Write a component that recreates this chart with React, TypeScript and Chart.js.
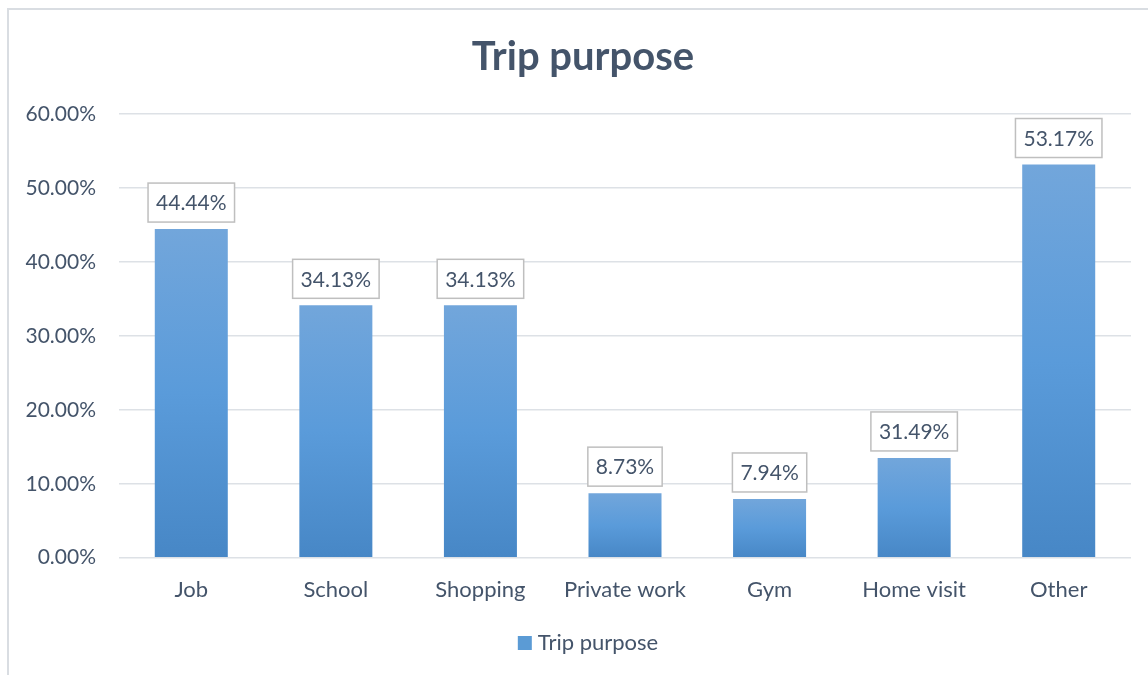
import React, { useEffect, useRef } from "react";
import { Chart, registerables } from "chart.js";

Chart.register(...registerables);

const categories = ["Job", "School", "Shopping", "Private work", "Gym", "Home visit", "Other"];
const values = [44.44, 34.13, 34.13, 8.73, 7.94, 13.49, 53.17];
const labelTexts = ["44.44%", "34.13%", "34.13%", "8.73%", "7.94%", "31.49%", "53.17%"];
const yTicks = [0, 10, 20, 30, 40, 50, 60];
const seriesName = "Trip purpose";
const titleText = "Trip purpose";

const FONT = "Lato";
const TEXT = "#44546A";
const W = 1148;
const H = 675;

const framePlugin = {
  id: "frame",
  beforeDraw(chart: any) {
    const c = chart.ctx;
    c.save();
    c.fillStyle = "#ffffff";
    c.fillRect(0, 0, chart.width, chart.height);
    c.strokeStyle = "#D9DDE2";
    c.lineWidth = 2;
    c.strokeRect(8, 9, chart.width + 40, chart.height + 20);
    c.restore();
  },
};

const titleLegendPlugin = {
  id: "titleLegend",
  afterDraw(chart: any) {
    const c = chart.ctx;
    c.save();
    // title
    c.font = `bold 40px ${FONT}`;
    c.fillStyle = TEXT;
    c.textAlign = "center";
    c.textBaseline = "alphabetic";
    c.fillText(titleText, 583, 70);
    // legend
    c.font = `22px ${FONT}`;
    const tw = c.measureText(seriesName).width;
    const box = 14;
    const gap = 6;
    const total = box + gap + tw;
    const x0 = 588 - total / 2;
    c.fillStyle = "#5B9BD5";
    c.fillRect(x0, 636, box, box);
    c.fillStyle = TEXT;
    c.textAlign = "left";
    c.fillText(seriesName, x0 + box + gap, 650);
    c.restore();
  },
};

const labelPlugin = {
  id: "boxLabels",
  afterDatasetsDraw(chart: any) {
    const c = chart.ctx;
    const meta = chart.getDatasetMeta(0);
    c.save();
    c.font = `21px ${FONT}`;
    c.textAlign = "center";
    c.textBaseline = "middle";
    meta.data.forEach((bar: any, i: number) => {
      const txt = labelTexts[i];
      const tw = c.measureText(txt).width;
      const bw = tw + 16;
      const bh = 39;
      const bx = bar.x - bw / 2;
      const by = bar.y - 7 - bh;
      c.fillStyle = "#ffffff";
      c.fillRect(bx, by, bw, bh);
      c.strokeStyle = "#BFBFBF";
      c.lineWidth = 1.5;
      c.strokeRect(bx, by, bw, bh);
      c.fillStyle = TEXT;
      c.fillText(txt, bar.x, by + bh / 2 + 1);
    });
    c.restore();
  },
};

function barGradient(ctx: any) {
  const chart = ctx.chart;
  if (ctx.type !== "data" || !chart.chartArea) return "#5B9BD5";
  const ys = chart.scales.y;
  const top = ys.getPixelForValue(ctx.raw);
  const bottom = ys.getPixelForValue(0);
  if (!isFinite(top) || !isFinite(bottom) || top === bottom) return "#5B9BD5";
  const g = chart.ctx.createLinearGradient(0, top, 0, bottom);
  g.addColorStop(0, "#72A6DB");
  g.addColorStop(0.5, "#5A9BDA");
  g.addColorStop(1, "#4787C6");
  return g;
}

export default function App() {
  const ref = useRef<HTMLCanvasElement | null>(null);
  useEffect(() => {
    if (!ref.current) return;
    const chart = new Chart(ref.current, {
      type: "bar",
      data: {
        labels: categories,
        datasets: [
          {
            label: seriesName,
            data: values,
            backgroundColor: barGradient as any,
            borderWidth: 0,
            categoryPercentage: 1,
            barPercentage: 0.505,
          },
        ],
      },
      options: {
        responsive: false,
        animation: false,
        devicePixelRatio: 1,
        layout: { padding: { top: 114, left: 0, right: W - 1131, bottom: 675 - 557.7 - 62 } },
        plugins: {
          title: { display: false },
          legend: { display: false },
          tooltip: { enabled: false },
        },
        scales: {
          x: {
            grid: { display: false, drawTicks: false },
            border: { display: false },
            ticks: { color: TEXT, font: { family: FONT, size: 22 }, padding: 19 },
            afterFit: (s: any) => {
              s.height = 62;
            },
          },
          y: {
            min: 0,
            max: 60,
            afterBuildTicks: (s: any) => {
              s.ticks = yTicks.map((v) => ({ value: v }));
            },
            grid: { color: "#DDE1E6", lineWidth: 1.5, drawTicks: false },
            border: { display: false },
            ticks: {
              color: TEXT,
              font: { family: FONT, size: 21 },
              padding: 23,
              callback: (v: any) => Number(v).toFixed(2) + "%",
            },
            afterFit: (s: any) => {
              s.width = 119;
            },
          },
        },
      },
      plugins: [framePlugin, labelPlugin, titleLegendPlugin],
    });
    return () => chart.destroy();
  }, []);
  return (
    <div style={{ position: "fixed", left: 0, top: 0, width: 1148, height: 675, overflow: "hidden", background: "#fff" }}>
      <canvas ref={ref} width={W} height={H} style={{ display: "block", width: W, height: H }} />
    </div>
  );
}
